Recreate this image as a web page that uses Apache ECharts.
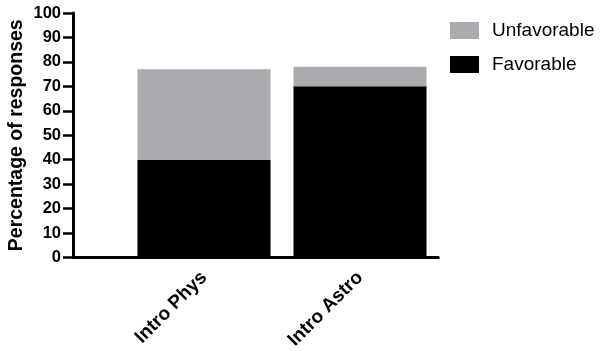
<!DOCTYPE html>
<html>
<head>
<meta charset="utf-8">
<script src="https://cdn.jsdelivr.net/npm/echarts@6/dist/echarts.min.js"></script>
<style>
  html, body { margin: 0; padding: 0; background: #fff; }
  #chart { width: 604px; height: 351px; }
</style>
</head>
<body>
<div id="chart"></div>
<script>
  // data
  const courses = ['Intro Phys', 'Intro Astro'];
  const favorable = [40, 70];
  const unfavorable = [37, 8];
  const yTicks = { min: 0, max: 100, interval: 10 };

  const FONT = '"Liberation Sans", Arial, Helvetica, sans-serif';
  const GRAY = '#aaabae';

  const chart = echarts.init(document.getElementById('chart'));
  chart.setOption({
    animation: false,
    textStyle: { fontFamily: FONT },
    legend: {
      data: ['Unfavorable', 'Favorable'],
      orient: 'vertical',
      left: 445,
      top: 16,
      itemWidth: 29,
      itemHeight: 17,
      itemGap: 15,
      icon: 'rect',
      textStyle: { fontFamily: FONT, fontSize: 19, color: '#000', padding: [0, 0, 0, 8] }
    },
    grid: [
      { left: 126, right: 166, top: 13, bottom: 93.5, containLabel: false, outerBoundsMode: 'none' },
      // only used to draw the x axis line out to the y axis
      { left: 73, right: 166, top: 13, bottom: 93.5, containLabel: false, outerBoundsMode: 'none' }
    ],
    xAxis: [
      {
        type: 'category',
        gridIndex: 0,
        data: courses,
        axisLine: { lineStyle: { color: '#000', width: 3 } },
        axisTick: { alignWithLabel: true, length: 8, lineStyle: { color: '#000', width: 3 } },
        axisLabel: {
          rotate: 45,
          margin: 17,
          color: '#000',
          fontFamily: FONT,
          fontWeight: 'bold',
          fontSize: 19
        }
      },
      {
        type: 'value',
        gridIndex: 1,
        min: 0,
        max: 1,
        axisLine: { show: true, onZero: false, lineStyle: { color: '#000', width: 3 } },
        axisTick: { show: false },
        axisLabel: { show: false },
        splitLine: { show: false }
      }
    ],
    yAxis: [
      {
        type: 'value',
        gridIndex: 0,
        min: yTicks.min,
        max: yTicks.max,
        interval: yTicks.interval,
        offset: 53,
        name: 'Percentage of responses',
        nameLocation: 'middle',
        nameGap: 46,
        nameMoveOverlap: false,
        nameTextStyle: { fontFamily: FONT, fontWeight: 'bold', fontSize: 19.5, color: '#000' },
        axisLine: { show: true, lineStyle: { color: '#000', width: 3 } },
        axisTick: { show: true, length: 10, lineStyle: { color: '#000', width: 2.5 } },
        axisLabel: { margin: 12, color: '#000', fontFamily: FONT, fontWeight: 'bold', fontSize: 16.5 },
        splitLine: { show: false }
      },
      {
        type: 'value',
        gridIndex: 1,
        show: false
      }
    ],
    series: [
      {
        name: 'Favorable',
        type: 'bar',
        stack: 'total',
        barWidth: 133,
        itemStyle: { color: '#000' },
        data: favorable
      },
      {
        name: 'Unfavorable',
        type: 'bar',
        stack: 'total',
        barWidth: 133,
        itemStyle: { color: GRAY },
        data: unfavorable
      }
    ]
  });
</script>
</body>
</html>
